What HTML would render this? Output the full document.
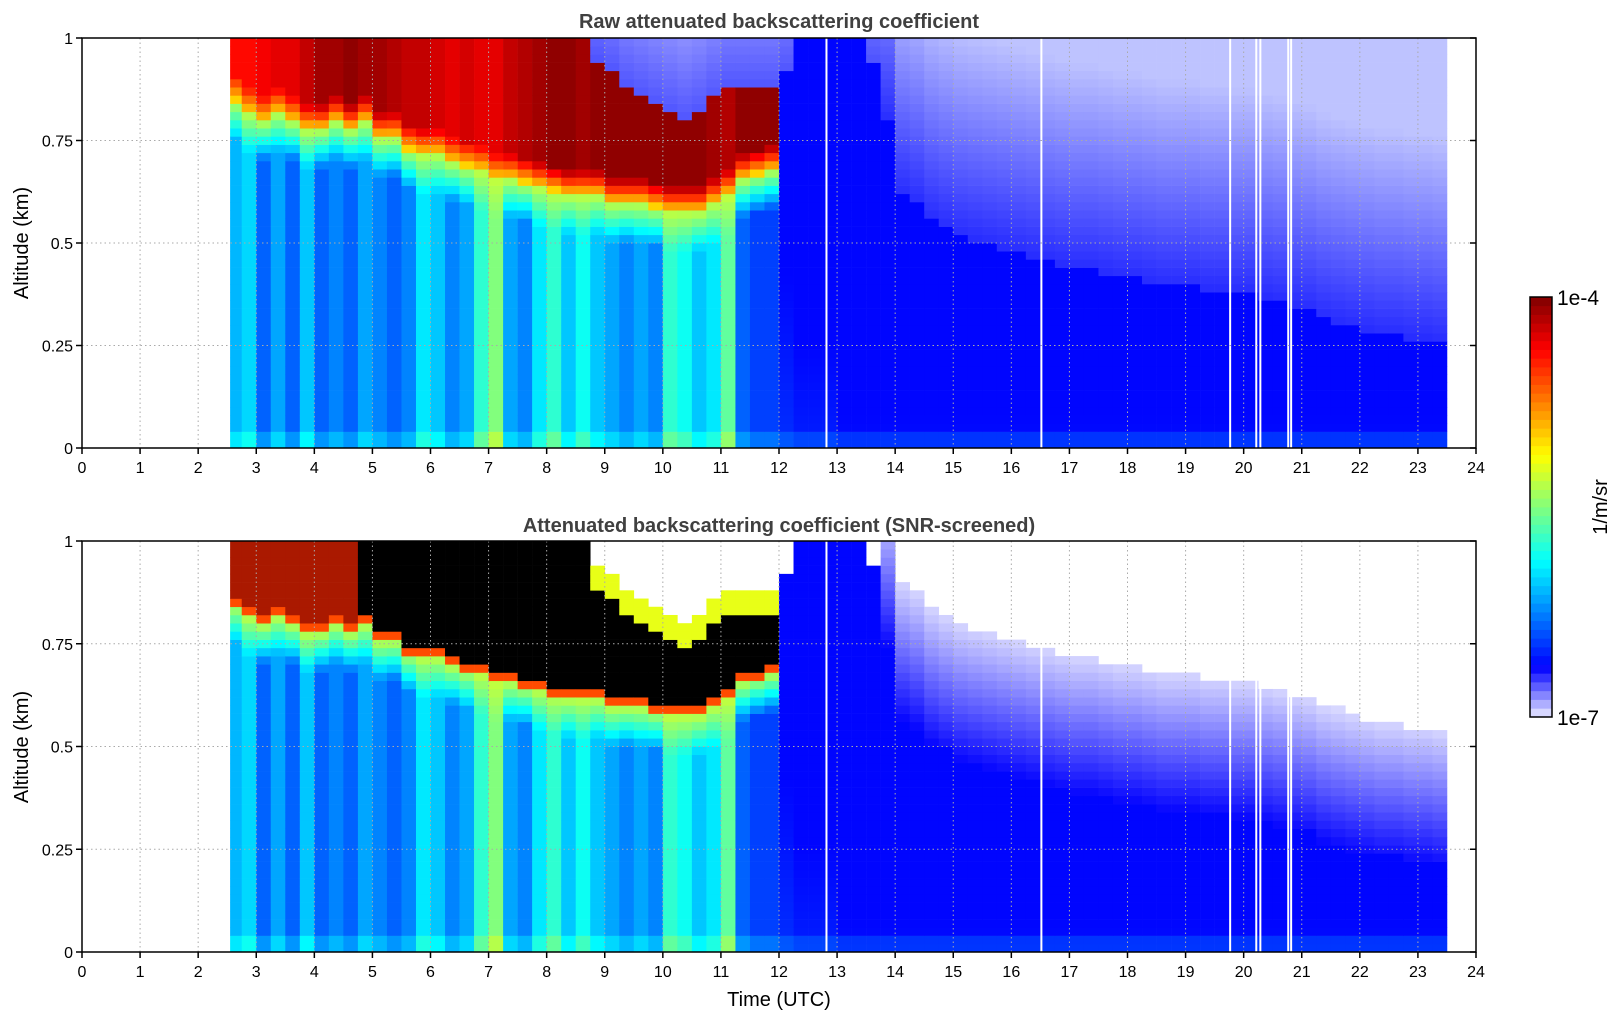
<!DOCTYPE html>
<html><head><meta charset="utf-8"><style>
body{margin:0;background:#fff;width:1621px;height:1020px;overflow:hidden}
svg text{font-family:"Liberation Sans","DejaVu Sans",sans-serif}
</style></head><body>
<svg id="fig" width="1621" height="1020" xmlns="http://www.w3.org/2000/svg">
<text x="779" y="28" text-anchor="middle" font-size="20" font-weight="bold" fill="#404040">Raw attenuated backscattering coefficient</text>
<text x="779" y="532" text-anchor="middle" font-size="20" font-weight="bold" fill="#404040">Attenuated backscattering coefficient (SNR-screened)</text>
<text transform="translate(28,243) rotate(-90)" text-anchor="middle" font-size="20">Altitude (km)</text>
<text transform="translate(28,747) rotate(-90)" text-anchor="middle" font-size="20">Altitude (km)</text>
<text x="779" y="1006" text-anchor="middle" font-size="20">Time (UTC)</text>
<text x="1557" y="305" font-size="21">1e-4</text>
<text x="1557" y="725" font-size="21">1e-7</text>
<text transform="translate(1607,507) rotate(-90)" text-anchor="middle" font-size="20">1/m/sr</text>
</svg>
<script>
const times=[2.55,2.75,3,3.25,3.5,3.75,4,4.25,4.5,4.75,5,5.25,5.5,5.75,6,6.25,6.5,6.75,7,7.25,7.5,7.75,8,8.25,8.5,8.75,9,9.25,9.5,9.75,10,10.25,10.5,10.75,11,11.25,11.5,11.75,12,12.25,12.5,12.75,13,13.25,13.5,13.75,14,14.25,14.5,14.75,15,15.25,15.5,15.75,16,16.25,16.5,16.75,17,17.25,17.5,17.75,18,18.25,18.5,18.75,19,19.25,19.5,19.75,20,20.25,20.5,20.75,21,21.25,21.5,21.75,22,22.25,22.5,22.75,23,23.25];
const lowVal=[-6.1,-6.0,-6.35,-6.15,-6.35,-6.05,-6.35,-6.25,-6.35,-6.15,-6.25,-6.35,-6.25,-5.95,-6.05,-6.25,-6.15,-5.75,-5.5,-6.15,-6.25,-5.95,-5.75,-6.05,-5.85,-6.05,-6.15,-6.25,-6.15,-6.25,-5.75,-5.85,-6.05,-5.95,-5.6,-6.35,-6.45,-6.45,-6.5,-6.55,-6.55,-6.55,-6.6,-6.6,-6.6,-6.6,-6.6,-6.6,-6.6,-6.6,-6.6,-6.6,-6.6,-6.6,-6.6,-6.6,-6.6,-6.6,-6.6,-6.6,-6.6,-6.6,-6.6,-6.6,-6.6,-6.6,-6.6,-6.6,-6.6,-6.6,-6.6,-6.6,-6.6,-6.6,-6.6,-6.6,-6.6,-6.6,-6.6,-6.6,-6.6,-6.6,-6.6,-6.6];
const cloudBase=[0.85,0.82,0.8,0.82,0.8,0.78,0.78,0.8,0.78,0.8,0.76,0.76,0.73,0.72,0.72,0.7,0.69,0.68,0.66,0.66,0.65,0.64,0.63,0.62,0.62,0.62,0.6,0.6,0.6,0.59,0.58,0.58,0.58,0.6,0.62,0.66,0.67,0.68,0,0,0,0,0,0,0,0,0,0,0,0,0,0,0,0,0,0,0,0,0,0,0,0,0,0,0,0,0,0,0,0,0,0,0,0,0,0,0,0,0,0,0,0,0,0];
const cloudPeak=[-4.4,-4.4,-4.35,-4.3,-4.3,-4.2,-4.1,-4.1,-4.05,-4.1,-4.1,-4.15,-4.2,-4.2,-4.25,-4.3,-4.25,-4.3,-4.3,-4.2,-4.15,-4.1,-4.05,-4.05,-4.1,-4.05,-4.05,-4.05,-4.05,-4.05,-4.05,-4.05,-4.05,-4.1,-4.15,-4.05,-4.05,-4.05,0,0,0,0,0,0,0,0,0,0,0,0,0,0,0,0,0,0,0,0,0,0,0,0,0,0,0,0,0,0,0,0,0,0,0,0,0,0,0,0,0,0,0,0,0,0];
const sigTop=[1,1,1,1,1,1,1,1,1,1,1,1,1,1,1,1,1,1,1,1,1,1,1,1,1,0.95,0.92,0.88,0.86,0.84,0.82,0.8,0.82,0.85,0.88,0.88,0.88,0.88,0.92,1,1,1,1,1,0.95,0.8,0.62,0.6,0.56,0.54,0.52,0.51,0.5,0.49,0.48,0.47,0.46,0.45,0.44,0.44,0.43,0.42,0.42,0.41,0.4,0.4,0.4,0.39,0.39,0.38,0.38,0.37,0.36,0.35,0.34,0.32,0.31,0.3,0.29,0.28,0.28,0.27,0.27,0.26];
const gapTimes=[12.8,16.5,19.75,20.2,20.27,20.75,20.8];
const xTicks=[0,1,2,3,4,5,6,7,8,9,10,11,12,13,14,15,16,17,18,19,20,21,22,23,24];
const yTicks=[0,0.25,0.5,0.75,1];
const yTickLabels=["0","0.25","0.5","0.75","1"];

const NS="http://www.w3.org/2000/svg";
const svg=document.getElementById('fig');
const X0=82,X1=1476;
const panels=[{y0:448,y1:38,screened:false,name:'raw'},{y0:952,y1:541,screened:true,name:'screened'}];
const xs=t=>X0+t/24*(X1-X0);
function el(tag,attrs,parent){const e=document.createElementNS(NS,tag);for(const k in attrs)e.setAttribute(k,attrs[k]);(parent||svg).appendChild(e);return e;}
function clamp(v){return Math.max(0,Math.min(1,v));}
function cmap(f){
  f=clamp(f);
  if(f<0.12){const a=f/0.12;const r=Math.round(235*(1-a)),g=Math.round(235*(1-a));return `rgb(${r},${g},255)`;}
  const g=0.125+(f-0.12)/0.88*0.875;
  const r=clamp(1.5-Math.abs(4*g-3)),gg=clamp(1.5-Math.abs(4*g-2)),b=clamp(1.5-Math.abs(4*g-1));
  return `rgb(${Math.round(r*255)},${Math.round(gg*255)},${Math.round(b*255)})`;
}
const fOf=v=>(v+7)/3;
const blue=v=>cmap(Math.max(0.125,fOf(v)));
const DZ=0.02;
panels.forEach(p=>{
  const ys=a=>p.y0+a*(p.y1-p.y0);
  const g=el('g',{});
  
  
  for(let i=0;i<times.length;i++){
    const t0=times[i],t1=i+1<times.length?times[i+1]:23.5;
    const xa=xs(t0),w=xs(t1)-xa+0.3;
    const cb=cloudBase[i],pk=cloudPeak[i],top=sigTop[i],lv=lowVal[i];
    const late=t0>=13.75;
    for(let k=0;k<50;k++){
      const a=(k+0.5)*DZ;
      let col;
      const bv=lv-a*0.3+(a<0.05?0.12:0);
      if(late){
        if(p.screened){
          if(a<top-0.05) col=blue(bv);
          else if(a<top+0.28){const s=(a-(top-0.05))/0.33;col=cmap(0.115-s*0.105);}
          else col=null;
        } else {
          if(a<top) col=blue(bv);
          else {const s=clamp((a-top)/0.5);col=`rgb(${Math.round(40+s*150)},${Math.round(45+s*150)},255)`;}
        }
      } else if(a>top){
        if(p.screened) col=null;
        else {const s=(a-top);col=`rgb(${Math.round(80+s*300)},${Math.round(85+s*290)},255)`;}
      } else if(cb>0&&a>=cb){
        const d=a-cb;
        if(p.screened){
          if(top<1&&a>top-0.06) col=cmap(fOf(-5.2));
          else if(d<0.02) col=cmap(fOf(-4.6));
          else col=t0<4.75?'rgb(170,25,0)':'#000';
        } else {
          const v=d<0.06?(-5.0+(pk+5.0)*d/0.06):pk;
          col=cmap(fOf(v));
        }
      } else if(cb>0&&a>cb-0.1){
        const v=lv+(-5.3-lv)*(a-(cb-0.1))/0.1;
        col=cmap(fOf(v));
      } else {
        let v=lv+(a<0.05?0.15:0);
        if(t0>=12) v=bv;
        col=blue(v);
      }
      if(col===null) continue;
      const r=el('rect',{x:xa.toFixed(2),y:ys(a+DZ/2).toFixed(2),width:w.toFixed(2),height:(DZ*(p.y0-p.y1)+0.3).toFixed(2),fill:col},g);
      
      
    }
  }
  gapTimes.forEach(t=>{
    const r=el('rect',{x:xs(t).toFixed(2),y:p.y1,width:2,height:p.y0-p.y1,fill:'#fff'});
    
    
  });
  xTicks.forEach(t=>{
    if(t>0&&t<24){const l=el('line',{x1:xs(t),x2:xs(t),y1:p.y1,y2:p.y0,stroke:'#aaa','stroke-width':1,'stroke-dasharray':'1.5,3'});
    
    }
    const tk=el('line',{x1:xs(t),x2:xs(t),y1:p.y0,y2:p.y0+6,stroke:'#000','stroke-width':1.5});
    
    
    const tx=el('text',{x:xs(t),y:p.y0+25,'text-anchor':'middle','font-size':16});
    tx.textContent=t;
    
    
  });
  yTicks.forEach((v,j)=>{
    const y=ys(v);
    if(v>0&&v<1){const l=el('line',{x1:X0,x2:X1,y1:y,y2:y,stroke:'#aaa','stroke-width':1,'stroke-dasharray':'1.5,3'});
    
    }
    const tk=el('line',{x1:X0-6,x2:X0,y1:y,y2:y,stroke:'#000','stroke-width':1.5});
    
    
    const tk2=el('line',{x1:X1-6,x2:X1,y1:y,y2:y,stroke:'#000','stroke-width':1.5});
    
    
    const tx=el('text',{x:X0-9,y:y+6,'text-anchor':'end','font-size':16});
    tx.textContent=yTickLabels[j];
    
    
  });
  const fr=el('rect',{x:X0,y:p.y1,width:X1-X0,height:p.y0-p.y1,fill:'none',stroke:'#000','stroke-width':1.5});
  
  
});
const cbg=el('g',{});


const CB0=717,CB1=297,N=48;
for(let k=0;k<N;k++){
  const f=(k+0.5)/N;
  const y=CB0-(k+1)*(CB0-CB1)/N;
  const r=el('rect',{x:1530,y:y.toFixed(2),width:22,height:((CB0-CB1)/N+0.4).toFixed(2),fill:cmap(f)},cbg);
  
  
}
const cbf=el('rect',{x:1530,y:CB1,width:22,height:CB0-CB1,fill:'none',stroke:'#000','stroke-width':1.5},cbg);


</script>
</body></html>
